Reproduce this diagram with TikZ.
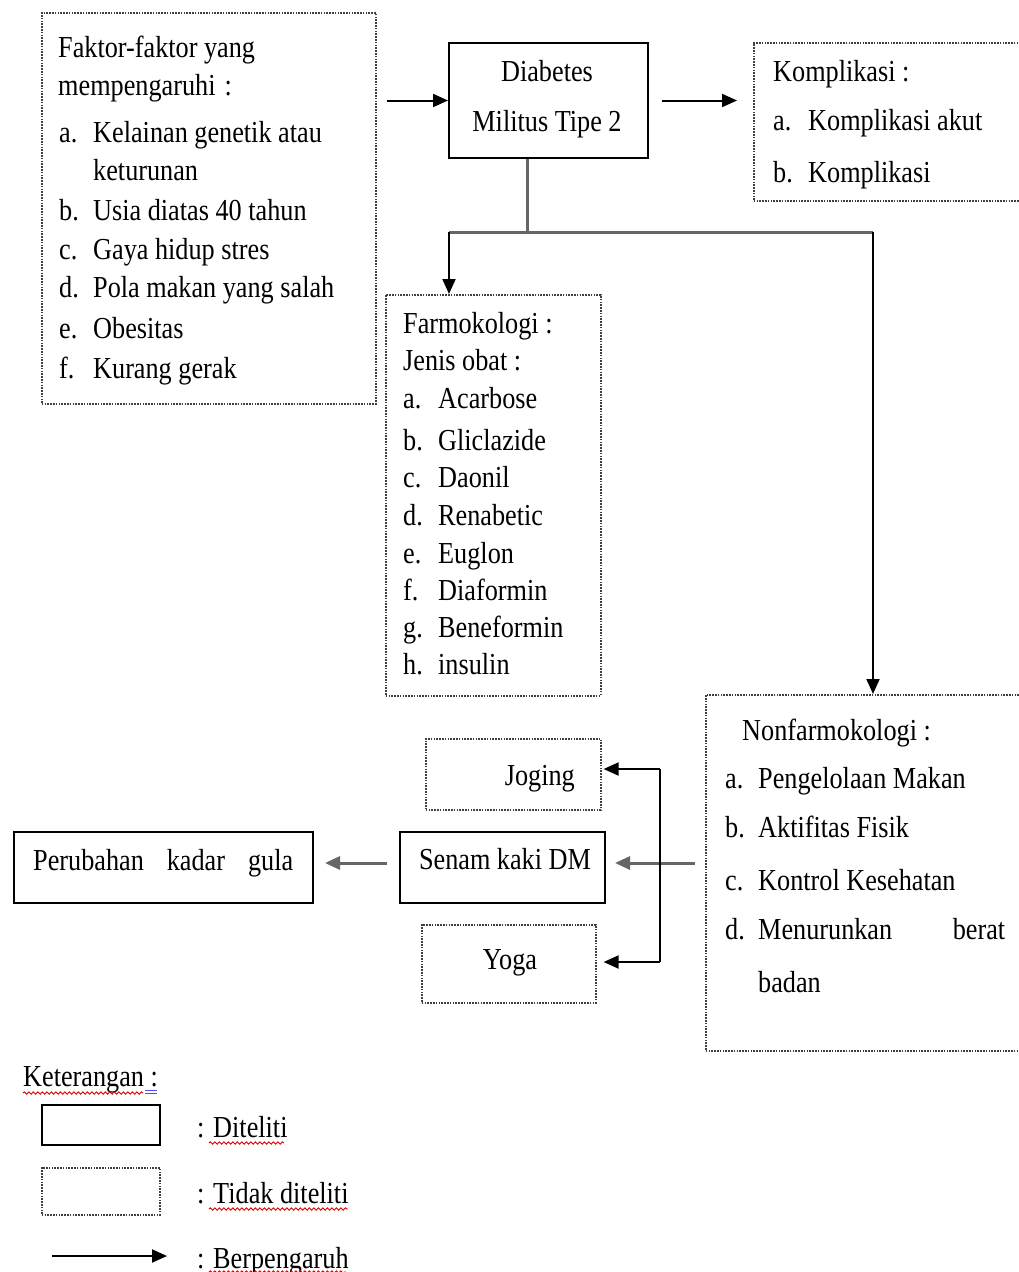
\documentclass[tikz,border=0pt]{standalone}
\usepackage{fontspec}
\setmainfont[FakeStretch=0.86]{Liberation Serif}
\usetikzlibrary{arrows.meta,decorations.pathmorphing}
\newcommand\diagfont{\fontsize{30.5}{35}\selectfont}
\tikzset{
  solidbox/.style={draw=black, line width=2pt, rectangle, inner sep=0pt, anchor=north west},
  dotbox/.style={draw=black!75, line width=1.6pt, dash pattern=on 1.6pt off 1.2pt, rectangle, inner sep=0pt, anchor=north west},
  txt/.style={anchor=base west, inner sep=0pt, font=\diagfont},
  ctxt/.style={anchor=base, inner sep=0pt, font=\diagfont},
  link/.style={draw=black, line width=2pt},
  glink/.style={draw=black!60, line width=3pt},
  arr/.style={link, -{Triangle[length=15pt,width=13pt]}},
  garr/.style={glink, -{Triangle[length=15pt,width=13pt]}},
  spell/.style={draw=red!85!black, line width=0.9pt, decorate, decoration={snake, amplitude=1.2pt, segment length=4.5pt}}
}
\begin{document}
\begin{tikzpicture}[x=1pt,y=-1pt]
\useasboundingbox (0,0) rectangle (1019,1272);
\fill[white] (0,0) rectangle (1019,1272);

% boxes
\node[dotbox, minimum width=334pt, minimum height=391pt] (faktor) at (41,12) {};
\node[solidbox, minimum width=199pt, minimum height=115pt] (dm) at (448,42) {};
\node[dotbox, minimum width=280pt, minimum height=158pt] (komp) at (753,42) {};
\node[dotbox, minimum width=215pt, minimum height=401pt] (farm) at (385,294) {};
\node[dotbox, minimum width=330pt, minimum height=356pt] (nonf) at (705,694) {};
\node[dotbox, minimum width=175pt, minimum height=71pt] (jog) at (425,738) {};
\node[solidbox, minimum width=205pt, minimum height=71pt] (senam) at (399,831) {};
\node[dotbox, minimum width=174pt, minimum height=78pt] (yoga) at (421,924) {};
\node[solidbox, minimum width=299pt, minimum height=71pt] (gula) at (13,831) {};

% faktor text
\node[txt] (f0) at (58,57) {Faktor-faktor yang};
\node[txt] (f1) at (58,95) {mempengaruhi\hspace{9pt}:};
\node[txt] (fa) at (59,142) {a.};
\node[txt] (fat) at (93,142) {Kelainan genetik atau};
\node[txt] (fat2) at (93,180) {keturunan};
\node[txt] (fb) at (59,220) {b.};
\node[txt] (fbt) at (93,220) {Usia diatas 40 tahun};
\node[txt] (fc) at (59,259) {c.};
\node[txt] (fct) at (93,259) {Gaya hidup stres};
\node[txt] (fd) at (59,297) {d.};
\node[txt] (fdt) at (93,297) {Pola makan yang salah};
\node[txt] (fe) at (59,338) {e.};
\node[txt] (fet) at (93,338) {Obesitas};
\node[txt] (ff) at (59,378) {f.};
\node[txt] (fft) at (93,378) {Kurang gerak};

% diabetes text
\node[ctxt] (dm1) at (547,81) {Diabetes};
\node[ctxt] (dm2) at (547,131) {Militus Tipe 2};

% komplikasi text
\node[txt] (k0) at (773,81) {Komplikasi :};
\node[txt] (ka) at (773,130) {a.};
\node[txt] (kat) at (808,130) {Komplikasi akut};
\node[txt] (kb) at (773,182) {b.};
\node[txt] (kbt) at (808,182) {Komplikasi};

% farmokologi text
\node[txt] (p0) at (403,333) {Farmokologi :};
\node[txt] (p1) at (403,370) {Jenis obat :};
\node[txt] (pa) at (403,408) {a.};
\node[txt] (pat) at (438,408) {Acarbose};
\node[txt] (pb) at (403,450) {b.};
\node[txt] (pbt) at (438,450) {Gliclazide};
\node[txt] (pc) at (403,487) {c.};
\node[txt] (pct) at (438,487) {Daonil};
\node[txt] (pd) at (403,525) {d.};
\node[txt] (pdt) at (438,525) {Renabetic};
\node[txt] (pe) at (403,563) {e.};
\node[txt] (pet) at (438,563) {Euglon};
\node[txt] (pf) at (403,600) {f.};
\node[txt] (pft) at (438,600) {Diaformin};
\node[txt] (pg) at (403,637) {g.};
\node[txt] (pgt) at (438,637) {Beneformin};
\node[txt] (ph) at (403,674) {h.};
\node[txt] (pht) at (438,674) {insulin};

% nonfarmokologi text
\node[txt] (n0) at (742,740) {Nonfarmokologi :};
\node[txt] (na) at (725,788) {a.};
\node[txt] (nat) at (758,788) {Pengelolaan Makan};
\node[txt] (nb) at (725,837) {b.};
\node[txt] (nbt) at (758,837) {Aktifitas Fisik};
\node[txt] (nc) at (725,890) {c.};
\node[txt] (nct) at (758,890) {Kontrol Kesehatan};
\node[txt] (nd) at (725,939) {d.};
\node[txt] (ndt) at (758,939) {\makebox[247pt][s]{Menurunkan\hfill berat}};
\node[txt] (ndt2) at (758,992) {badan};

% small boxes text
\node[anchor=base east, inner sep=0pt, font=\diagfont] (jt) at (575,785) {Joging};
\node[ctxt] (st) at (505,869) {Senam kaki DM};
\node[ctxt] (yt) at (510,969) {Yoga};
\node[txt] (gt) at (33,870) {\makebox[260pt][s]{Perubahan\hfill kadar\hfill gula}};

% connectors
\coordinate (j) at (527,232);
\coordinate (jl) at (449,232);
\coordinate (jr) at (873,232);
\draw[arr, shorten <=10pt] (faktor.east |- dm.west) -- (dm.west);
\draw[arr, shorten <=13pt, shorten >=16pt] (dm.east) -- (dm.east -| komp.west);
\draw[glink] (dm.south -| j) -- (j);
\draw[glink] (jl) -- (j) -- (jr);
\draw[arr] (jl) -- (farm.north -| jl);
\draw[arr] (jr) -- (nonf.north -| jr);

\coordinate (b1) at (660,769);
\coordinate (b2) at (660,962);
\coordinate (sy) at (660,863);
\draw[garr, shorten <=10pt, shorten >=9pt] (nonf.west |- sy) -- (senam.east |- sy);
\draw[link] (b1) -- (b2);
\draw[arr, shorten >=2pt] (b1) -- (jog.east |- b1);
\draw[arr, shorten >=7pt] (b2) -- (yoga.east |- b2);
\draw[garr, shorten <=12pt, shorten >=11pt] (senam.west |- sy) -- (gula.east |- sy);

% legend
\node[txt] (ket) at (23,1086) {Keterangan :};
\node[solidbox, minimum width=118pt, minimum height=40pt] (lg1) at (41,1104) {};
\node[dotbox, minimum width=118pt, minimum height=47pt] (lg2) at (41,1167) {};
\node[txt] (l1) at (197,1137) {: Diteliti};
\node[txt] (l2) at (197,1203) {: Tidak diteliti};
\coordinate (la) at (52,1256);
\coordinate (lb) at (167,1256);
\draw[arr] (la) -- (lb);
\node[txt] (l3) at (197,1268) {: Berpengaruh};

% spelling marks
\draw[spell] (23,1093) -- (143,1093);
\draw[blue!70, line width=0.9pt] (145,1090) -- (157,1090) (145,1093.5) -- (157,1093.5);
\draw[spell] (209,1143) -- (284,1143);
\draw[spell] (209,1209) -- (348,1209);
\draw[spell] (209,1272) -- (346,1272);
\end{tikzpicture}
\end{document}
